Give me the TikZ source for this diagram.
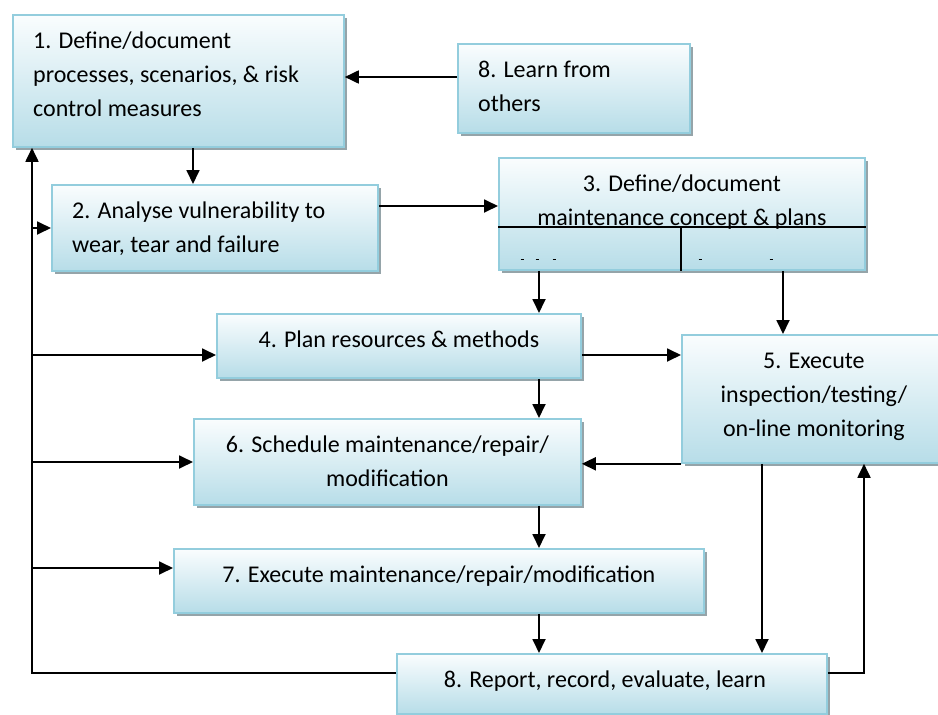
\documentclass[tikz,border=0pt]{standalone}
\usepackage{fontspec}
\setmainfont{Carlito}
\usepackage{tikz}
\usetikzlibrary{arrows.meta,shadows}
\definecolor{bleuBord}{HTML}{93CDDD}
\definecolor{bleuHaut}{HTML}{FAFDFE}
\definecolor{bleuBas}{HTML}{B7DDE8}
\definecolor{grisOmbre}{HTML}{95A4A9}
\newcommand{\montant}{\rule{0pt}{20pt}}
\tikzset{
  cadre/.style={
    rectangle, draw=bleuBord, line width=1.8pt,
    top color=bleuHaut, bottom color=bleuBas,
    inner sep=0pt, anchor=north west,
    drop shadow={shadow xshift=3pt, shadow yshift=-3pt, fill=grisOmbre, opacity=1}},
  texte/.style={inner sep=0pt, anchor=north west, align=left,
    font=\fontsize{24}{34}\selectfont},
  texteCentre/.style={texte, anchor=north, align=center},
  fleche/.style={-{Triangle[length=14pt,width=13pt]}, line width=1.8pt},
  trait/.style={line width=1.8pt}
}

\begin{document}
\begin{tikzpicture}[x=1pt, y=-1pt]
  \useasboundingbox (0,0) rectangle (938,715);
  \clip (0,0) rectangle (938,715);

  % --- Cadres
  \node[cadre, minimum width=331pt, minimum height=132pt] (b1) at ( 12, 14) {};
  \node[cadre, minimum width=232pt, minimum height=89pt]  (bL) at (457, 43) {};
  \node[cadre, minimum width=326pt, minimum height=86pt]  (b2) at ( 51,184) {};
  \node[cadre, minimum width=366pt, minimum height=112pt] (b3) at (498,157) {};
  \node[cadre, minimum width=364pt, minimum height=64pt]  (b4) at (216,313) {};
  \node[cadre, minimum width=264pt, minimum height=128pt] (b5) at (681,334) {};
  \node[cadre, minimum width=387pt, minimum height=86pt]  (b6) at (193,418) {};
  \node[cadre, minimum width=530pt, minimum height=64pt]  (b7) at (173,548) {};
  \node[cadre, minimum width=430pt, minimum height=60pt]  (b8) at (396,653) {};

  % --- Textes
  \node[texte] (t1) at ([shift={(21pt,-14pt)}]b1.north west)
    {\montant 1. Define/document\\processes, scenarios, \& risk\\control measures};
  \node[texte] (tL) at ([shift={(21pt,-14pt)}]bL.north west)
    {\montant 8. Learn from\\others};
  \node[texte] (t2) at ([shift={(21pt,-14pt)}]b2.north west)
    {\montant 2. Analyse vulnerability to\\wear, tear and failure};
  \node[texteCentre] (t3) at ([yshift=-14pt]b3.north)
    {\montant 3. Define/document\\maintenance concept \& plans};
  \node[texteCentre] (t4) at ([yshift=-14pt]b4.north)
    {\montant 4. Plan resources \& methods};
  \node[texteCentre] (t5) at ([yshift=-14pt]b5.north)
    {\montant 5. Execute\\inspection/testing/\\on-line monitoring};
  \node[texteCentre] (t6) at ([yshift=-14pt]b6.north)
    {\montant 6. Schedule maintenance/repair/\\modification};
  \node[texteCentre] (t7) at ([yshift=-14pt]b7.north)
    {\montant 7. Execute maintenance/repair/modification};
  \node[texteCentre] (t8) at ([shift={(-7pt,-14pt)}]b8.north)
    {\montant 8. Report, record, evaluate, learn};

  % --- Partage du cadre 3
  \draw[trait] (b3.west |- 0,227) -- (b3.east |- 0,227);
  \draw[trait] (681,227) -- (b3.south -| 681,0);
  \foreach \x in {522,537,554,700,771}
    \draw[line width=0.8pt] (\x-1.5,259) -- (\x+1.5,259);

  % --- Chaine principale
  \draw[fleche] (bL.west |- 0,77) -- (b1.east |- 0,77);
  \draw[fleche] (b1.south -| 193,0) -- (b2.north -| 193,0);
  \draw[fleche] (b2.east |- 0,206) -- (b3.west |- 0,206);
  \draw[fleche] (b3.south -| 539,0) -- (b4.north -| 539,0);
  \draw[fleche] (b3.south -| 783,0) -- (b5.north -| 783,0);
  \draw[fleche] (b4.east |- 0,355) -- (b5.west |- 0,355);
  \draw[fleche] (b5.south west) -- (b6.east |- b5.south west);
  \draw[fleche] (b4.south -| 539,0) -- (b6.north -| 539,0);
  \draw[fleche] (b6.south -| 539,0) -- (b7.north -| 539,0);
  \draw[fleche] (b7.south -| 539,0) -- (b8.north -| 539,0);
  \draw[fleche] (b5.south -| 762,0) -- (b8.north -| 762,0);
  \draw[fleche] (b8.east |- 0,673) -| (b5.south -| 864,0);

  % --- Retour vers le cadre 1
  \draw[fleche] (b8.west |- 0,673) -- (32,673) -- (b1.south -| 32,0);
  \foreach \cible/\hauteur in {b2/228, b4/355, b6/462, b7/568}
    \draw[fleche] (32,\hauteur) -- (\cible.west |- 0,\hauteur);

\end{tikzpicture}
\end{document}
